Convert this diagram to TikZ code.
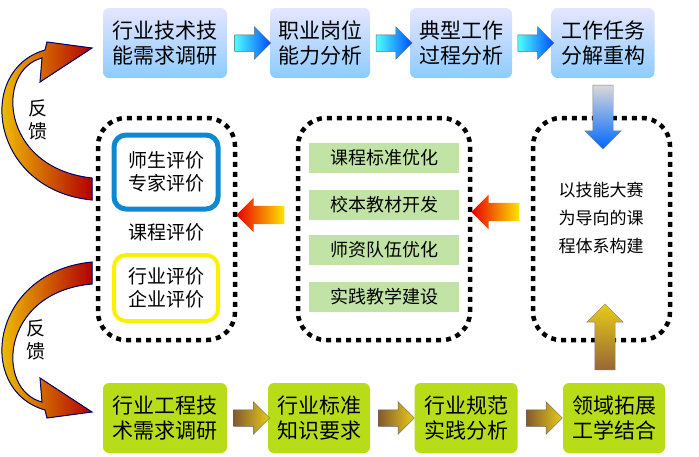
\documentclass[tikz,border=0pt]{standalone}
\usepackage{fontspec}
\setmainfont{Noto Sans CJK SC}
\usetikzlibrary{shapes.arrows,arrows.meta}
\definecolor{lim}{RGB}{185,220,25}
\begin{document}
\begin{tikzpicture}[x=1pt,y=-1pt,
 tb/.style={rounded corners=6pt,top color=blue!10,bottom color=blue!45!cyan!45,draw=none,minimum width=#1,minimum height=70pt,align=center,font=\fontsize{21}{25}\selectfont,inner sep=0pt},
 bb/.style={rounded corners=6pt,fill=lim,draw=none,minimum width=#1,minimum height=70pt,align=center,font=\fontsize{21}{25}\selectfont,inner sep=0pt},
 dot/.style={draw,line width=4.5pt,dash pattern=on 5pt off 5pt,rounded corners=28pt},
 gbar/.style={fill=green!40!olive!35,minimum width=150pt,minimum height=30pt,font=\fontsize{18}{20}\selectfont,inner sep=0pt},
 rarr/.style={single arrow,draw=none,minimum height=#1,single arrow head extend=8pt,inner xsep=0pt,inner ysep=8pt},
 txt/.style={font=\fontsize{19}{23}\selectfont,align=center}]
\useasboundingbox (0,0) rectangle (699,456);
\node[tb=124pt] (t1) at (165,43) {行业技术技\\能需求调研};
\node[tb=100pt] (t2) at (320,43) {职业岗位\\能力分析};
\node[tb=102pt] (t3) at (461,43) {典型工作\\过程分析};
\node[tb=103pt] (t4) at (603,43) {工作任务\\分解重构};
\node[bb=124pt] (b1) at (165,418) {行业工程技\\术需求调研};
\node[bb=102pt] (b2) at (319,418) {行业标准\\知识要求};
\node[bb=103pt] (b3) at (466,418) {行业规范\\实践分析};
\node[bb=102pt] (b4) at (614,418) {领域拓展\\工学结合};
\foreach \a/\b in {t1/t2,t2/t3,t3/t4}
 \path (\a.east) -- (\b.west) node[midway,rarr=36pt,shading=axis,left color=cyan!70,right color=blue!70!cyan,draw=black!60,line width=0.5pt] {};
\foreach \a/\b in {b1/b2,b2/b3,b3/b4}
 \path (\a.east) -- (\b.west) node[midway,rarr=36pt,shading=axis,left color=brown!70!black,right color=yellow!60!brown,draw=black!60,line width=0.5pt] {};
\draw[dot] (98,118) rectangle (235,340);
\draw[dot] (298,118) rectangle (470,340);
\draw[dot] (533,118) rectangle (670,340);
\node[draw=cyan!70!blue,line width=5pt,rounded corners=12pt,minimum width=104pt,minimum height=74pt,txt] (e1) at (166,172) {师生评价\\专家评价};
\node[txt] (kc) at (166,232) {课程评价};
\node[draw=yellow!90!lime,line width=4pt,rounded corners=12pt,minimum width=104pt,minimum height=66pt,txt] (e2) at (166,288) {行业评价\\企业评价};
\node[gbar] (g1) at (384,158) {课程标准优化};
\node[gbar] (g2) at (384,205) {校本教材开发};
\node[gbar] (g3) at (384,250) {师资队伍优化};
\node[gbar] (g4) at (384,297) {实践教学建设};
\node[txt,font=\fontsize{17}{28}\selectfont] (rt) at (601,218) {以技能大赛\\为导向的课\\程体系构建};
\node[rarr=48pt,inner ysep=9pt,shape border rotate=180,left color=red!90!black,right color=yellow!80!orange] (ra1) at (265,215) {};
\node[rarr=48pt,inner ysep=9pt,shape border rotate=180,left color=red!90!black,right color=yellow!80!orange] (ra2) at (500,212) {};
\node[rarr=64pt,inner sep=10pt,shape border rotate=270,top color=gray!30,bottom color=blue!60!cyan,draw=black!50] (da) at (603,112) {};
\node[rarr=66pt,inner sep=10pt,shape border rotate=90,top color=yellow!60!brown,bottom color=brown!80!black,draw=black!50] (ua) at (605,342) {};
\fill[left color=yellow!90!orange,right color=red!70!black,draw=blue!40!black,line width=1pt]
 (92,178) .. controls (0,168) and (-5,70) .. (42,58) -- (40,82) -- (92,48) -- (47,42) -- (45,50)
 .. controls (-25,70) and (-10,190) .. (92,200) -- cycle;
\fill[left color=yellow!90!orange,right color=red!70!black,draw=blue!40!black,line width=1pt]
 (92,262) .. controls (-10,272) and (-25,390) .. (45,410) -- (47,418) -- (92,412) -- (40,378) -- (42,402)
 .. controls (-5,390) and (0,292) .. (92,284) -- cycle;
\node[txt] (fk1) at (38,120) {反\\馈};
\node[txt] (fk2) at (36,340) {反\\馈};
\end{tikzpicture}
\end{document}
